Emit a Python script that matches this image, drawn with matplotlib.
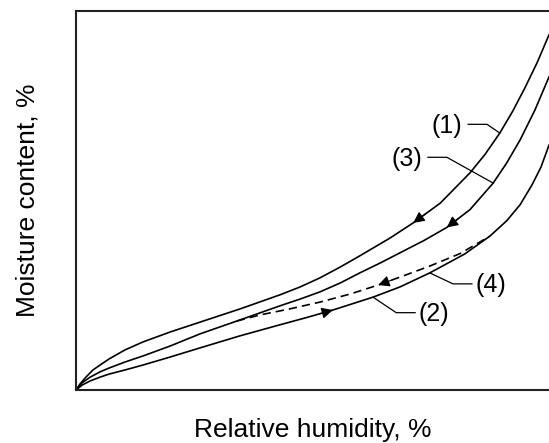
import matplotlib
matplotlib.use('Agg')
import matplotlib.pyplot as plt

plt.rcParams['font.family'] = ['Liberation Sans', 'DejaVu Sans']

# 曲线数据（相对湿度 %, 含水率 相对值）
rh_1 = [0, 0.85, 2.1, 3.6, 5.1, 7.0, 10.4, 14.2, 19.9, 26.2, 34.7, 43.1, 47.4, 51.6, 55.8, 60.0, 66.4, 71.3, 77.0, 83.3, 86.5, 89.6, 92.3, 94.9, 97.5, 100]
mc_1 = [0, 1.6, 3.4, 5.3, 6.6, 8.2, 10.6, 12.7, 15.3, 17.9, 21.4, 25.1, 27.2, 29.6, 32.4, 35.4, 40.1, 44.1, 49.3, 57.3, 62.2, 67.8, 73.5, 79.7, 86.4, 93.7]

rh_3 = [0, 1.3, 3.0, 5.1, 7.0, 10.4, 14.2, 19.9, 26.2, 34.7, 43.1, 47.4, 51.6, 55.8, 60.0, 64.3, 68.5, 73.5, 78.4, 83.3, 88.2, 91.0, 93.9, 97.0, 100]
mc_3 = [0, 1.9, 3.4, 4.8, 5.8, 7.4, 9.0, 11.6, 14.8, 18.5, 22.2, 24.0, 25.9, 28.2, 30.9, 33.5, 36.2, 39.4, 42.9, 47.6, 54.6, 59.8, 66.0, 73.8, 82.6]

rh_2 = [0, 1.3, 3.0, 5.1, 7.0, 10.4, 14.2, 19.9, 26.2, 34.7, 43.1, 48.7, 54.3, 62.8, 68.5, 74.8, 82.2, 87.5, 91.1, 93.9, 96.4, 98.3, 100]
mc_2 = [0, 1.3, 2.4, 3.4, 4.2, 5.3, 6.6, 8.7, 11.1, 14.3, 17.2, 19.1, 21.1, 24.5, 27.2, 30.9, 35.9, 40.6, 44.7, 48.9, 54.1, 58.8, 64.6]

rh_4 = [34.0, 38.9, 45.2, 51.6, 57.9, 63.9, 69.6, 74.8, 81.2, 87.5]
mc_4 = [18.2, 19.8, 21.4, 23.2, 25.3, 27.7, 30.3, 32.7, 36.0, 40.6]

fig = plt.figure(figsize=(5.49, 4.43), dpi=100)
ax = fig.add_axes([76 / 549, 53 / 443, 473 / 549, 379 / 443])

lw = 1.2
for xs, ys in [(rh_1, mc_1), (rh_3, mc_3), (rh_2, mc_2)]:
    ax.plot(xs, ys, color='black', lw=lw, solid_joinstyle='round')
ax.plot(rh_4, mc_4, color='black', lw=lw, ls=(0, (5, 3)))


def idx(xs, v):
    return min(range(len(xs)), key=lambda k: abs(xs[k] - v))


def arrow_on(xs, ys, v, step):
    # 箭头尖在 rh=v 附近的点，尾部朝相邻点
    i = idx(xs, v)
    j = i + step
    tx = xs[i] + 0.5 * (xs[j] - xs[i])
    ty = ys[i] + 0.5 * (ys[j] - ys[i])
    ax.annotate('', xy=(xs[i], ys[i]), xytext=(tx, ty),
                arrowprops=dict(arrowstyle='-|>', color='black', lw=0.8,
                                mutation_scale=17, shrinkA=0, shrinkB=0))


arrow_on(rh_1, mc_1, 71.3, 1)
arrow_on(rh_3, mc_3, 78.4, 1)
arrow_on(rh_4, mc_4, 63.9, 1)
arrow_on(rh_2, mc_2, 54.3, -1)


def label(txt, tx, ty, xs, ys, v, ex, side):
    i = idx(xs, v)
    ax.text(tx, ty, txt, fontsize=18, ha='center', va='center')
    ax.plot([ex, ex + side * 4.0, xs[i]], [ty + 0.4, ty + 0.4, ys[i]],
            color='black', lw=0.9)


label('(1)', 78.4, 69.7, rh_1, mc_1, 89.6, 82.9, 1)
label('(3)', 70.0, 61.0, rh_3, mc_3, 88.2, 74.4, 1)
label('(4)', 87.7, 27.6, rh_2, mc_2, 74.8, 83.7, -1)
label('(2)', 75.7, 20.0, rh_2, mc_2, 62.8, 71.7, -1)

ax.set_xlim(0, 100)
ax.set_ylim(0, 100)
ax.set_xticks([])
ax.set_yticks([])
ax.spines['right'].set_visible(False)
for s in ['left', 'top', 'bottom']:
    ax.spines[s].set_linewidth(1.5)
    ax.spines[s].set_color('#222222')

ax.set_xlabel('Relative humidity, %', fontsize=19, labelpad=20)
ax.set_ylabel('Moisture content, %', fontsize=19, labelpad=26)

plt.savefig('out.png', dpi=100)
